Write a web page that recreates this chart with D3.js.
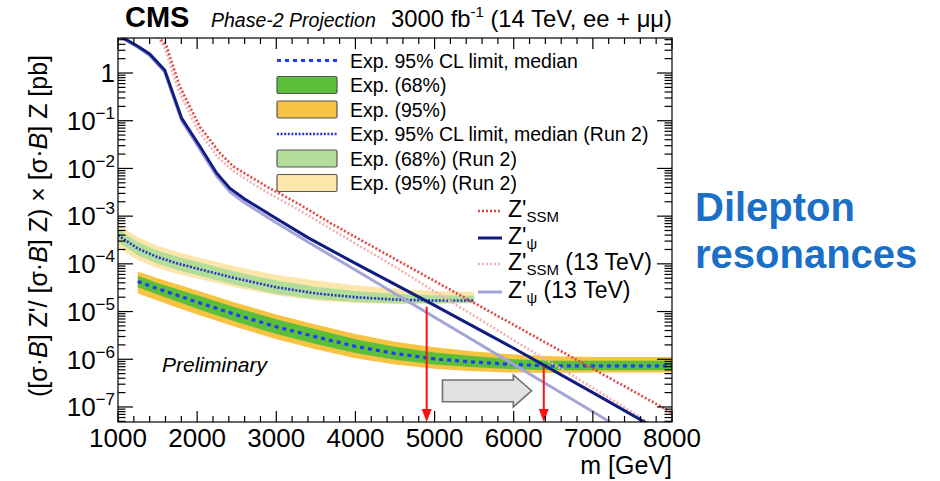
<!DOCTYPE html>
<html><head><meta charset="utf-8">
<script src="https://cdn.jsdelivr.net/npm/d3@7"></script>
<style>
body{margin:0;background:#fff}
svg{display:block}
text{font-family:"Liberation Sans",Arial,Helvetica,sans-serif;fill:#000}
</style>
</head><body>
<svg id="chart" width="940" height="481"></svg>
<script>
// ---------------- DATA ----------------
// Run 2 expected limit (13 TeV)
const mRun2 = [1000,1250,1500,1750,2000,2500,3000,3500,4000,4500,5000,5500];
const run2Median = [3.98e-4,2.09e-4,1.38e-4,1.02e-4,7.94e-5,4.90e-5,3.24e-5,2.40e-5,2.0e-5,1.78e-5,1.70e-5,1.70e-5];
const run2Up95 = [6.76e-4,3.63e-4,2.40e-4,1.78e-4,1.38e-4,8.71e-5,5.89e-5,4.47e-5,3.55e-5,3.02e-5,2.69e-5,2.57e-5];
const run2Dn95 = [2.19e-4,1.20e-4,8.13e-5,6.17e-5,4.90e-5,3.16e-5,2.19e-5,1.70e-5,1.51e-5,1.45e-5,1.48e-5,1.51e-5];
const run2Up68 = [5.37e-4,2.82e-4,1.91e-4,1.41e-4,1.10e-4,6.76e-5,4.47e-5,3.31e-5,2.69e-5,2.34e-5,2.19e-5,2.14e-5];
const run2Dn68 = [2.88e-4,1.51e-4,1.0e-4,7.41e-5,5.75e-5,3.55e-5,2.34e-5,1.82e-5,1.58e-5,1.48e-5,1.48e-5,1.51e-5];

// Phase-2 expected limit (14 TeV, 3000 fb-1)
const mExp = [1250,1500,1750,2000,2500,3000,3500,4000,4500,5000,5500,6000,6500,7000,7500,8000];
const expMedian = [4.27e-5,3.02e-5,2.19e-5,1.58e-5,8.51e-6,4.79e-6,2.95e-6,1.86e-6,1.32e-6,1.02e-6,8.71e-7,7.76e-7,7.24e-7,7.24e-7,7.24e-7,7.24e-7];
const expUp95 = [6.92e-5,5.01e-5,3.72e-5,2.75e-5,1.51e-5,8.71e-6,5.37e-6,3.39e-6,2.34e-6,1.78e-6,1.45e-6,1.26e-6,1.15e-6,1.12e-6,1.12e-6,1.12e-6];
const expDn95 = [2.40e-5,1.70e-5,1.20e-5,8.71e-6,4.68e-6,2.63e-6,1.62e-6,1.05e-6,7.76e-7,6.31e-7,5.62e-7,5.25e-7,5.13e-7,5.25e-7,5.25e-7,5.25e-7];
const expUp68 = [5.62e-5,3.98e-5,2.95e-5,2.19e-5,1.20e-5,6.92e-6,4.27e-6,2.63e-6,1.82e-6,1.38e-6,1.15e-6,1.0e-6,9.33e-7,9.33e-7,9.33e-7,9.33e-7];
const expDn68 = [3.24e-5,2.29e-5,1.62e-5,1.15e-5,6.03e-6,3.39e-6,2.09e-6,1.35e-6,9.77e-7,7.76e-7,6.76e-7,6.17e-7,5.89e-7,5.89e-7,5.89e-7,5.89e-7];

// Theory curves
const mPsi = [1000,1250,1400,1590,1805,2036,2247,2415,2600,3000,3400,4000,5000,6000,7000,7700];
const psi14 = [6.31,3.63,2.51,1.15,0.112,0.0288,7.94e-3,3.80e-3,2.29e-3,8.91e-4,3.55e-4,1.02e-4,1.35e-5,1.70e-6,2.0e-7,4.37e-8];
const mPsi13 = [1000,1250,1400,1590,1805,2036,2247,2415,2600,3000,3400,4000,5000,6000,7000,7300];
const psi13 = [6.03,3.47,2.34,1.05,0.1,0.0251,6.92e-3,3.24e-3,1.91e-3,7.24e-4,2.88e-4,7.41e-5,7.59e-6,7.76e-7,7.94e-8,3.98e-8];
const mSSM = [1450,1530,1615,1783,2036,2289,2457,2879,3300,3700,4500,5000,6000,7000,8000];
const ssm14 = [7.94,5.37,3.55,0.513,0.0741,0.0209,0.011,4.17e-3,1.74e-3,6.92e-4,1.26e-4,4.37e-5,5.25e-6,6.31e-7,7.59e-8];
const mSSM13 = [1450,1510,1600,1760,2000,2250,2450,2880,3300,3700,4500,5000,6000,7000,7800];
const ssm13 = [7.94,5.37,3.16,0.447,0.0676,0.0182,8.91e-3,3.16e-3,1.32e-3,5.25e-4,8.71e-5,2.63e-5,2.51e-6,2.51e-7,3.80e-8];

// Mass-limit arrows
const arrowM = [4900, 6380];
const arrowTop = [1.26e-5, 7.0e-7];
// grey arrow (m positions: tail, head base, tip) and values
const greyM = [5100, 5995, 6226];
const greyBody = [3.67e-7, 1.29e-7];
const greyHead = [4.68e-7, 1.0e-7];
const greyTip = 2.19e-7;

// Axes
const xTicks = [1000,2000,3000,4000,5000,6000,7000,8000];
const yTicks = [1e-7,1e-6,1e-5,1e-4,1e-3,1e-2,1e-1,1];
const yTickExp = ["−7","−6","−5","−4","−3","−2","−1",""];
const xDomain = [1000, 8000];
const yDomain = [4.84e-8, 5.42];

// Legends
const legend1Labels = ["Exp. 95% CL limit, median","Exp. (68%)","Exp. (95%)","Exp. 95% CL limit, median (Run 2)","Exp. (68%) (Run 2)","Exp. (95%) (Run 2)"];
const legend2Sub = ["SSM","ψ","SSM","ψ"];
const legend2Suffix = [""," ",  " (13 TeV)"," (13 TeV)"];

// ---------------- DRAW ----------------
const svg = d3.select("#chart");
const F = {l:118, r:672, t:38, b:422};
const x = d3.scaleLinear().domain(xDomain).range([F.l, F.r]);
const y = d3.scaleLog().domain(yDomain).range([F.b, F.t]);

svg.append("defs").append("clipPath").attr("id","clip")
  .append("rect").attr("x",F.l).attr("y",F.t).attr("width",F.r-F.l).attr("height",F.b-F.t);
const plot = svg.append("g").attr("clip-path","url(#clip)");

const C = {
  y95:"#f6c342", g68:"#5cbf3c", med:"#1d3ff0",
  ry95:"#fde6ab", rg68:"#b3de9a", rmed:"#2437c4",
  navy:"#101c82", lav:"#a4a4d8", red:"#e04848", pink:"#f2b0b0"
};

function band(ms, lo, hi, color){
  const idx = d3.range(ms.length);
  plot.append("path").datum(idx)
    .attr("d", d3.area().x(i=>x(ms[i])).y0(i=>y(lo[i])).y1(i=>y(hi[i])))
    .attr("fill", color);
}
function curve(ms, vs, color, w, dash){
  const idx = d3.range(ms.length);
  const p = plot.append("path").datum(idx)
    .attr("d", d3.line().x(i=>x(ms[i])).y(i=>y(vs[i])))
    .attr("fill","none").attr("stroke",color).attr("stroke-width",w);
  if(dash) p.attr("stroke-dasharray",dash);
  return p;
}

band(mRun2, run2Dn95, run2Up95, C.ry95);
band(mRun2, run2Dn68, run2Up68, C.rg68);
curve(mRun2, run2Median, C.rmed, 2.6, "2,1.6");

band(mExp, expDn95, expUp95, C.y95);
band(mExp, expDn68, expUp68, C.g68);
curve(mExp, expMedian, C.med, 3.2, "4,4");

curve(mPsi13, psi13, C.lav, 3);
curve(mSSM13, ssm13, C.pink, 2.6, "2,2");
curve(mPsi, psi14, C.navy, 3);
curve(mSSM, ssm14, C.red, 2.6, "2,2");

// red arrows
arrowM.forEach((m,i)=>{
  const xa = x(m), y0 = y(arrowTop[i]), y1 = F.b;
  plot.append("line").attr("x1",xa).attr("x2",xa).attr("y1",y0).attr("y2",y1-12)
    .attr("stroke","#ff1010").attr("stroke-width",2);
  plot.append("path").attr("d",`M${xa-5},${y1-13}L${xa+5},${y1-13}L${xa},${y1}Z`).attr("fill","#ff1010");
});

// grey arrow
{
  const x0=x(greyM[0]), xh=x(greyM[1]), xt=x(greyM[2]);
  const bt=y(greyBody[0]), bb=y(greyBody[1]), ht=y(greyHead[0]), hb=y(greyHead[1]), yt=y(greyTip);
  plot.append("path").attr("d",`M${x0},${bt}L${xh},${bt}L${xh},${ht}L${xt},${yt}L${xh},${hb}L${xh},${bb}L${x0},${bb}Z`)
    .attr("fill","#e2e2e2").attr("stroke","#707070").attr("stroke-width",1.6);
}

// frame & ticks
const axg = svg.append("g").attr("stroke","#000").attr("stroke-width",1.2);
axg.append("rect").attr("x",F.l).attr("y",F.t).attr("width",F.r-F.l).attr("height",F.b-F.t).attr("fill","none");
for(let m=1000;m<=8000;m+=200){
  const major = (m%1000===0);
  const L = major?11:6, xx = x(m);
  axg.append("line").attr("x1",xx).attr("x2",xx).attr("y1",F.b).attr("y2",F.b-L);
  axg.append("line").attr("x1",xx).attr("x2",xx).attr("y1",F.t).attr("y2",F.t+L);
}
for(let e=-8;e<=1;e++){
  for(let k=1;k<=9;k++){
    const v = k*Math.pow(10,e);
    if(v<yDomain[0]||v>yDomain[1]) continue;
    const L = k===1?15:7.5, yy=y(v);
    axg.append("line").attr("x1",F.l).attr("x2",F.l+L).attr("y1",yy).attr("y2",yy);
    axg.append("line").attr("x1",F.r).attr("x2",F.r-L).attr("y1",yy).attr("y2",yy);
  }
}

// tick labels
svg.selectAll(".xl").data(xTicks).enter().append("text")
  .attr("x",d=>x(d)).attr("y",447).attr("text-anchor","middle").attr("font-size",26).text(d=>d);
yTicks.forEach((v,i)=>{
  const t = svg.append("text").attr("x",115).attr("y",y(v)+9.3).attr("text-anchor","end").attr("font-size",26);
  if(yTickExp[i]===""){ t.text("1"); }
  else { t.append("tspan").text("10"); t.append("tspan").attr("font-size",17).attr("dy",-11).text(yTickExp[i]); }
});

// axis titles
svg.append("text").attr("x",672).attr("y",474).attr("text-anchor","end").attr("font-size",25).text("m [GeV]");
{
  const t = svg.append("text").attr("transform","translate(47,226) rotate(-90)").attr("text-anchor","middle").attr("font-size",25);
  const parts = [["([σ·",0],["B",1],["] Z'/ [σ·",0],["B",1],["] Z) × [σ·",0],["B",1],["] Z [pb]",0]];
  parts.forEach(p=>t.append("tspan").attr("font-style",p[1]?"italic":null).text(p[0]));
}

// title
svg.append("text").attr("x",125).attr("y",27).attr("font-size",29).attr("font-weight","bold").text("CMS");
svg.append("text").attr("x",211).attr("y",27).attr("font-size",19.5).attr("font-style","italic").text("Phase-2 Projection");
{
  const t = svg.append("text").attr("x",672).attr("y",27).attr("text-anchor","end").attr("font-size",23.8);
  t.append("tspan").text("3000 fb");
  t.append("tspan").attr("font-size",15).attr("dy",-10).text("-1");
  t.append("tspan").attr("dy",10).text(" (14 TeV, ee + μμ)");
}

svg.append("text").attr("x",162).attr("y",372).attr("font-size",21).attr("font-style","italic").text("Preliminary");

// legend 1
const lg1y0 = 60.5, lg1dy = 24.5;
legend1Labels.forEach((lab,i)=>{
  const yy = lg1y0 + i*lg1dy;
  if(i===0||i===3){
    svg.append("line").attr("x1",277).attr("x2",337).attr("y1",yy).attr("y2",yy)
      .attr("stroke", i===0?C.med:C.rmed).attr("stroke-width", i===0?3.2:2.6)
      .attr("stroke-dasharray", i===0?"4,4":"2,1.6");
  } else {
    const fill = [null,C.g68,C.y95,null,C.rg68,C.ry95][i];
    svg.append("rect").attr("x",277).attr("y",yy-8.5).attr("width",60).attr("height",17).attr("rx",1.5)
      .attr("fill",fill).attr("stroke","#555").attr("stroke-width",1.2);
  }
  svg.append("text").attr("x",350).attr("y",yy+7).attr("font-size",19.5).text(lab);
});

// legend 2
const lg2y = [211,238,264,292];
const lg2c = [[C.red,"2,2",2.6],[C.navy,null,3],[C.pink,"2,2",2.6],[C.lav,null,3]];
lg2y.forEach((yy,i)=>{
  const l = svg.append("line").attr("x1",478).attr("x2",502).attr("y1",yy).attr("y2",yy)
    .attr("stroke",lg2c[i][0]).attr("stroke-width",lg2c[i][2]);
  if(lg2c[i][1]) l.attr("stroke-dasharray",lg2c[i][1]);
  const t = svg.append("text").attr("x",508).attr("y",yy+6).attr("font-size",23);
  t.append("tspan").text("Z'");
  t.append("tspan").attr("font-size",15).attr("dy",5).text(legend2Sub[i]);
  if(legend2Suffix[i].trim()!=="") t.append("tspan").attr("dy",-5).text(legend2Suffix[i]);
});

// side text
svg.append("text").attr("x",695).attr("y",221).attr("font-size",40).attr("font-weight","bold").style("fill","#1c6fc6").text("Dilepton");
svg.append("text").attr("x",695).attr("y",268).attr("font-size",40).attr("font-weight","bold").style("fill","#1c6fc6").text("resonances");
</script>
</body></html>
